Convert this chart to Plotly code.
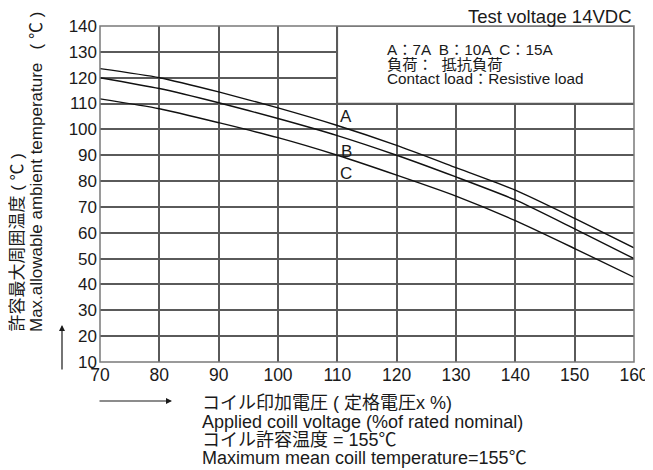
import plotly.graph_objects as go

voltage = [70, 80, 90, 100, 110, 120, 130, 140, 150, 160]
temp_A = [123.5, 120.0, 114.5, 108.3, 101.5, 93.8, 85.2, 76.5, 65.6, 54.2]
temp_B = [120.0, 115.8, 110.3, 104.2, 97.6, 90.0, 81.6, 72.7, 61.5, 50.0]
temp_C = [111.8, 108.0, 102.6, 96.8, 90.0, 82.3, 74.2, 64.7, 53.9, 42.8]
curve_names = ["A", "B", "C"]
label_pos = [(111.5, 105.0), (111.5, 91.6), (111.5, 83.1)]
x_ticks = list(range(70, 161, 10))
y_ticks = list(range(10, 141, 10))

# the page body adds an 8px offset; the figure is sized so it fits the 653x470 window
OFF = 8
W, H = 653 - OFF, 470 - OFF
L, R, T, B = 100 - OFF, 19, 26 - OFF, 108
PW, PH = W - L - R, H - T - B

def px(x):  # screen x -> paper
    return (x - OFF - L) / PW

def py(y):  # screen y -> paper
    return (H - B - (y - OFF)) / PH

FONT = "Liberation Sans, Arial, Noto Sans CJK JP, sans-serif"
INK = "#1a1a1a"
GRID = "#5a5a5a"

fig = go.Figure()
for name, ys in zip(curve_names, [temp_A, temp_B, temp_C]):
    fig.add_trace(go.Scatter(x=voltage, y=ys, mode="lines", name=name,
                             line=dict(color="#111111", width=1.4, shape="spline", smoothing=0.6),
                             showlegend=False, hoverinfo="skip"))

annotations = []
for name, (lx, ly) in zip(curve_names, label_pos):
    annotations.append(dict(x=lx, y=ly, xref="x", yref="y", text=name, showarrow=False,
                            font=dict(family=FONT, size=17, color=INK)))

# legend box text
box_lines = ["A：7A  B：10A  C：15A", "負荷：  抵抗負荷", "Contact load：Resistive load"]
for i, t in enumerate(box_lines):
    annotations.append(dict(x=px(385), y=py(50 + i * 14.2), xref="paper", yref="paper", text=t,
                            showarrow=False, xanchor="left", yanchor="middle",
                            font=dict(family=FONT, size=15.3, color=INK)))

annotations.append(dict(x=px(634), y=py(16), xref="paper", yref="paper", text="Test voltage 14VDC",
                        showarrow=False, xanchor="right", yanchor="middle",
                        font=dict(family=FONT, size=18.5, color=INK)))

# y title (two rotated lines)
annotations.append(dict(x=px(17), y=py(334), xref="paper", yref="paper", text="許容最大周囲温度 ( ℃ )",
                        showarrow=False, textangle=-90, xanchor="center", yanchor="bottom",
                        font=dict(family=FONT, size=17, color=INK)))
annotations.append(dict(x=px(36), y=py(334), xref="paper", yref="paper",
                        text="Max.allowable ambient temperature\u2002 ( ℃ )",
                        showarrow=False, textangle=-90, xanchor="center", yanchor="bottom",
                        font=dict(family=FONT, size=17, color=INK)))

# x title lines
x_lines = ["コイル印加電圧 ( 定格電圧x %)", "Applied coill voltage (%of rated nominal)",
           "コイル許容温度 = 155℃", "Maximum mean coill temperature=155℃"]
x_line_y = [403.5, 421.5, 439.5, 457.5]
for t, yy in zip(x_lines, x_line_y):
    annotations.append(dict(x=px(200), y=py(yy), xref="paper", yref="paper", text=t,
                            showarrow=False, xanchor="left", yanchor="middle",
                            font=dict(family=FONT, size=18, color=INK)))

# arrows (head position in paper coords, tail as pixel offset)
annotations.append(dict(x=px(172), y=py(401), ax=-74, ay=0, xref="paper", yref="paper",
                        axref="pixel", ayref="pixel", text="", showarrow=True, arrowhead=2,
                        arrowsize=1, arrowwidth=1.2, arrowcolor=INK))
annotations.append(dict(x=px(62), y=py(325), ax=0, ay=46, xref="paper", yref="paper",
                        axref="pixel", ayref="pixel", text="", showarrow=True, arrowhead=2,
                        arrowsize=1, arrowwidth=1.2, arrowcolor=INK))

shapes = [dict(type="rect", xref="x", yref="y", x0=110, x1=160, y0=110, y1=140,
               fillcolor="white", line=dict(color=GRID, width=1.5), layer="above"),
          dict(type="rect", xref="paper", yref="paper", x0=0, x1=1, y0=0, y1=1,
               line=dict(color="#7a7a7a", width=1.5), layer="above")]

fig.update_layout(
    width=W, height=H, margin=dict(l=L, r=R, t=T, b=B, autoexpand=False),
    paper_bgcolor="white", plot_bgcolor="white",
    annotations=annotations, shapes=shapes,
    xaxis=dict(range=[70, 160], tickvals=x_ticks, showgrid=True, gridcolor=GRID, gridwidth=1.5,
               zeroline=False, showline=False, ticks="", automargin=False,
               tickfont=dict(family=FONT, size=17.5, color=INK)),
    yaxis=dict(range=[10, 140], tickvals=y_ticks, showgrid=True, gridcolor=GRID, gridwidth=1.5,
               zeroline=False, showline=False, ticks="", ticklabelstandoff=2, automargin=False,
               tickfont=dict(family=FONT, size=17, color=INK)),
)

fig.write_html("out.html")
